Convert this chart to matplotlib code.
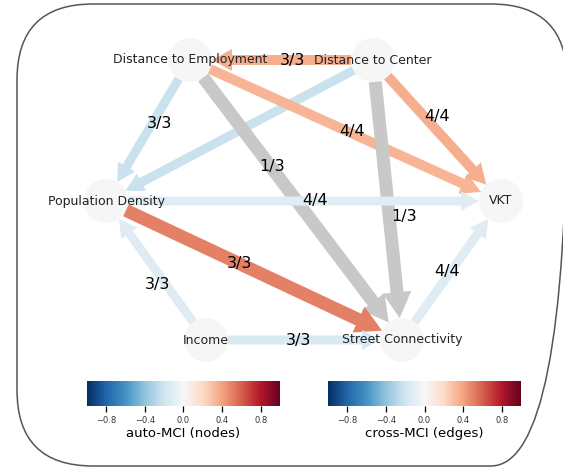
import numpy as np
import matplotlib
matplotlib.use("Agg")
import matplotlib.pyplot as plt
from matplotlib.patches import FancyArrowPatch, Circle, FancyBboxPatch
from matplotlib.colors import Normalize
from matplotlib.cm import ScalarMappable

# variables and their auto-MCI values
nodes = ["Distance to Employment", "Distance to Center", "VKT",
         "Street Connectivity", "Income", "Population Density"]
node_mci = [0.0, 0.0, 0.0, 0.0, 0.0, 0.0]

# links: source, target, cross-MCI (None = not significant), label
edge_src = ["Distance to Center", "Distance to Employment", "Distance to Center",
            "Distance to Employment", "Distance to Center", "Distance to Employment",
            "Distance to Center", "Population Density", "Population Density",
            "Income", "Income", "Street Connectivity"]
edge_dst = ["Distance to Employment", "Population Density", "Population Density",
            "VKT", "VKT", "Street Connectivity",
            "Street Connectivity", "VKT", "Street Connectivity",
            "Population Density", "Street Connectivity", "VKT"]
edge_mci = [0.36, -0.22, -0.22, 0.34, 0.36, None,
            None, -0.12, 0.5, -0.12, -0.16, -0.12]
edge_labels = ["3/3", "3/3", "", "4/4", "4/4", "1/3",
               "1/3", "4/4", "3/3", "3/3", "3/3", "4/4"]

# layout (pixels)
pos = {
    "Distance to Employment": (190, 60),
    "Distance to Center": (373, 60),
    "VKT": (501, 201),
    "Street Connectivity": (402, 340),
    "Income": (206, 340),
    "Population Density": (106, 201),
}
edge_width = [10, 9, 9, 10, 10, 13, 13, 9, 13, 9, 9, 9]
label_place = [(0.44, 0, 0), (0.45, 7, 0), (0.5, 0, 0), (0.51, 3, 0),
               (0.40, 13, 0), (0.38, 2, 0), (0.56, 15, 0), (0.53, 0, 0),
               (0.45, 0, 0), (0.40, -8, 0), (0.47, 0, 1), (0.49, -3, 0)]
node_r = 22

W, H, dpi = 563, 467, 100
cmap = plt.get_cmap("RdBu_r")
norm = Normalize(-1, 1)

fig = plt.figure(figsize=(W / dpi, H / dpi), dpi=dpi)
ax = fig.add_axes([0, 0, 1, 1])
ax.set_xlim(0, W)
ax.set_ylim(H, 0)
ax.axis("off")

ax.add_patch(FancyBboxPatch((17, 4), 550, 462,
                            boxstyle="round,pad=0,rounding_size=76",
                            fc="none", ec="#555555", lw=1.1, zorder=0))

for name, v in zip(nodes, node_mci):
    ax.add_patch(Circle(pos[name], node_r, fc=cmap(norm(v)), ec="none", zorder=1))

px = 72.0 / dpi
for s, d, v, w in zip(edge_src, edge_dst, edge_mci, edge_width):
    col = "#c8c8c8" if v is None else cmap(norm(v))
    style = "simple,head_length=%.1f,head_width=%.1f,tail_width=%.1f" % (2.0 * w, 2.2 * w, w)
    ax.add_patch(FancyArrowPatch(pos[s], pos[d], arrowstyle=style, mutation_scale=px,
                                 shrinkA=node_r * px, shrinkB=node_r * px,
                                 fc=col, ec="none", lw=0, zorder=2))

for name in nodes:
    x, y = pos[name]
    ax.text(x, y, name, ha="center", va="center", fontsize=9, color="#222222", zorder=4)

for s, d, lab, (f, dx, dy) in zip(edge_src, edge_dst, edge_labels, label_place):
    if not lab:
        continue
    (x0, y0), (x1, y1) = pos[s], pos[d]
    ax.text(x0 + f * (x1 - x0) + dx, y0 + f * (y1 - y0) + dy, lab,
            ha="center", va="center", fontsize=11.5, color="black", zorder=5)

sm = ScalarMappable(norm=norm, cmap=cmap)
for x0, lab in [(87, "auto-MCI (nodes)"), (328, "cross-MCI (edges)")]:
    cax = fig.add_axes([x0 / W, 1 - 406 / H, 193 / W, 25 / H])
    cb = fig.colorbar(sm, cax=cax, orientation="horizontal")
    cb.outline.set_visible(False)
    cb.set_ticks([-0.8, -0.4, 0.0, 0.4, 0.8])
    cax.tick_params(labelsize=6, length=4, width=0.9, pad=3, labelcolor="#333333")
    cax.set_xlabel(lab, fontsize=9.5, labelpad=2)

fig.savefig("out.png", dpi=dpi)
